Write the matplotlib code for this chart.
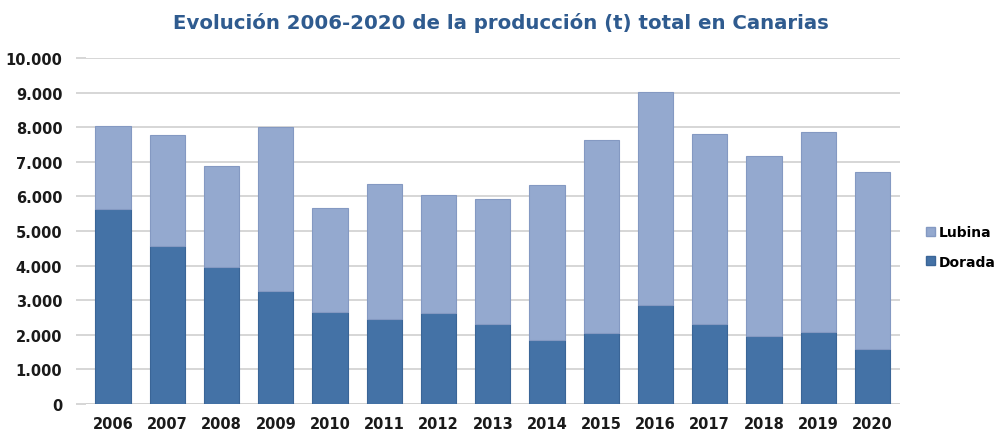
import numpy as np
import matplotlib.pyplot as plt
from matplotlib.patches import Patch
from matplotlib.ticker import FuncFormatter

years = ['2006', '2007', '2008', '2009', '2010', '2011', '2012', '2013',
         '2014', '2015', '2016', '2017', '2018', '2019', '2020']
dorada = [5640, 4570, 3960, 3270, 2660, 2460, 2630, 2310, 1850, 2050,
          2860, 2310, 1970, 2080, 1590]
total = [8030, 7770, 6880, 8010, 5660, 6360, 6040, 5920, 6330, 7630,
         9020, 7800, 7170, 7860, 6710]
lubina = [t - d for t, d in zip(total, dorada)]

c_dorada = '#4472a6'
c_lubina = '#94a9cf'

plt.rcParams['font.family'] = ['DejaVu Sans']

fig = plt.figure(figsize=(10.02, 4.35), dpi=100)
ax = fig.add_axes([0.0858, 0.069, 0.812, 0.795])

x = np.arange(len(years))
w = 0.65
ax.bar(x, dorada, w, color=c_dorada, edgecolor='#3a6597', linewidth=0.8, zorder=3)
ax.bar(x, lubina, w, bottom=dorada, color=c_lubina, edgecolor='#8499c2',
       linewidth=0.8, zorder=3)

ax.set_xlim(-0.5, len(years) - 0.5)
ax.set_ylim(0, 10000)
ax.set_yticks(np.arange(0, 10001, 1000))
ax.yaxis.set_major_formatter(FuncFormatter(lambda v, p: f'{int(v):,}'.replace(',', '.')))
ax.set_xticks(x)
ax.set_xticklabels(years)
ax.grid(axis='y', color='#d0d0d0', linewidth=1.2, zorder=0)
for s in ax.spines.values():
    s.set_visible(False)
ax.tick_params(axis='y', length=7, color='#d0d0d0', width=1.2, pad=10,
               labelsize=10.5)
ax.tick_params(axis='x', length=0, pad=9, labelsize=10.5)
for lab in ax.get_xticklabels() + ax.get_yticklabels():
    lab.set_fontweight('bold')
    lab.set_color('#1a1a1a')
ax.axhline(0, color='#d0d0d0', linewidth=1.2, zorder=2)

fig.text(0.5, 0.948, 'Evolución 2006-2020 de la producción (t) total en Canarias',
         ha='center', va='center', fontsize=14.2, fontweight='bold',
         color='#2f5b8f')

handles = [Patch(facecolor=c_lubina, edgecolor='#8499c2', label='Lubina'),
           Patch(facecolor=c_dorada, edgecolor='#3a6597', label='Dorada')]
leg = fig.legend(handles=handles, loc='center left', bbox_to_anchor=(0.912, 0.43),
                 frameon=False, handlelength=0.6, handleheight=0.6,
                 handletextpad=0.3, labelspacing=1.1,
                 prop={'size': 10, 'weight': 'bold'})

fig.savefig('out.png', dpi=100)
